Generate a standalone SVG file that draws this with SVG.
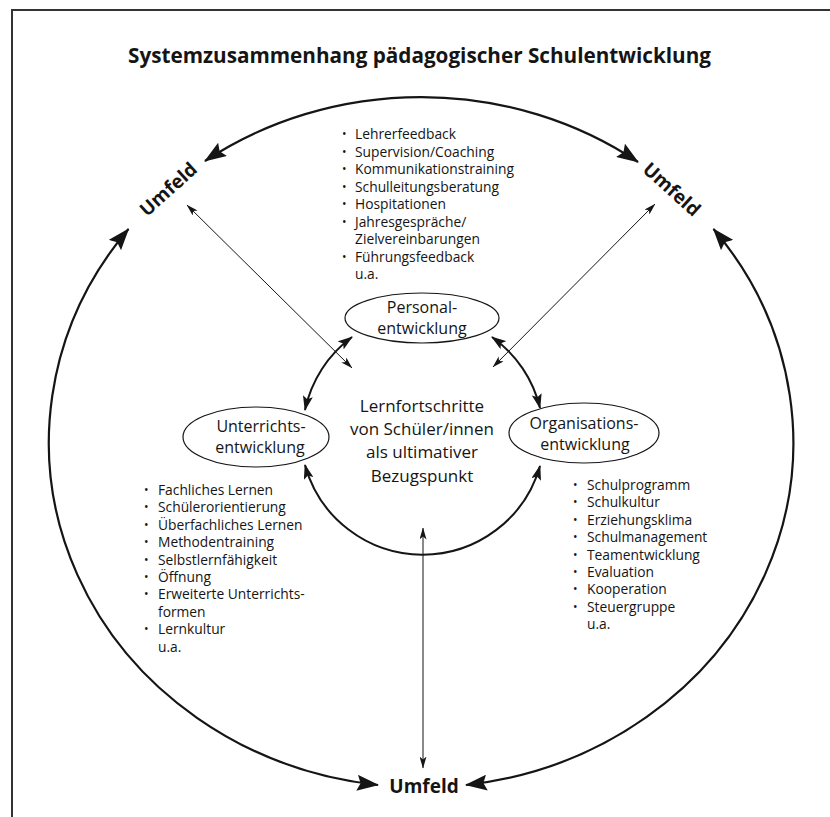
<svg xmlns="http://www.w3.org/2000/svg" width="830" height="817" viewBox="0 0 830 817">
<style>
text{font-family:"Open Sans","Noto Sans","DejaVu Sans",sans-serif;fill:#151515}
.title{font-size:20.5px;font-weight:700;text-anchor:middle}
.umf{font-size:19px;font-weight:700;text-anchor:middle}
.node{font-size:16px;text-anchor:middle}
.ctr{font-size:17px;text-anchor:middle}
.li{font-size:13.8px}
.bu{font-size:12px}
.big{fill:none;stroke:#151515;stroke-width:2.2;marker-start:url(#ab);marker-end:url(#ab)}
.mid{fill:none;stroke:#151515;stroke-width:2;marker-start:url(#am);marker-end:url(#am)}
.thin{fill:none;stroke:#151515;stroke-width:1;marker-start:url(#as);marker-end:url(#as)}
.ell{fill:#fff;stroke:#151515;stroke-width:1.2}
</style>
<defs>
<marker id="ab" viewBox="0 0 22 16" refX="21" refY="8" markerWidth="22" markerHeight="16" markerUnits="userSpaceOnUse" orient="auto-start-reverse"><path d="M0,0 L22,8 L0,16 L3.5,8 Z" fill="#151515"/></marker>
<marker id="am" viewBox="0 0 15 10" refX="14" refY="5" markerWidth="15" markerHeight="10" markerUnits="userSpaceOnUse" orient="auto-start-reverse"><path d="M0,0 L15,5 L0,10 L3,5 Z" fill="#151515"/></marker>
<marker id="as" viewBox="0 0 12 7" refX="11.5" refY="3.5" markerWidth="12" markerHeight="7" markerUnits="userSpaceOnUse" orient="auto-start-reverse"><path d="M0,0 L12,3.5 L0,7 L3,3.5 Z" fill="#151515"/></marker>
</defs>
<rect width="830" height="817" fill="#fff"/>
<path d="M12,817 V10 H830" fill="none" stroke="#333" stroke-width="2"/>
<text class="title" x="419.5" y="63" textLength="583" lengthAdjust="spacingAndGlyphs">Systemzusammenhang pädagogischer Schulentwicklung</text>

<g id="connectors">
<path class="big" d="M205,161 A372,345 0 0 1 638,162"/>
<path class="big" d="M128.5,229 A372,345 0 0 0 378,785"/>
<path class="big" d="M713.5,229 A372,345 0 0 1 466,785"/>
<path class="thin" d="M187,205 L352,368"/>
<path class="thin" d="M655,204 L493,367"/>
<path class="thin" d="M423,528 L423,768"/>
<path class="mid" d="M352,337 A122,122 0 0 0 305,410"/>
<path class="mid" d="M492,337 A122,122 0 0 1 540,408"/>
<path class="mid" d="M305,465 A122,122 0 0 0 540,466"/>
</g>

<g id="umfeld-left"><text class="umf" transform="translate(168,189) rotate(-42)" y="7">Umfeld</text></g>
<g id="umfeld-right"><text class="umf" transform="translate(672,189) rotate(42)" y="7">Umfeld</text></g>
<g id="umfeld-bottom"><text class="umf" x="424" y="793">Umfeld</text></g>

<g id="personalentwicklung">
<ellipse class="ell" cx="422" cy="318" rx="77" ry="25"/>
<text class="node" x="422" y="313">Personal-</text>
<text class="node" x="422" y="334">entwicklung</text>
</g>
<g id="unterrichtsentwicklung">
<ellipse class="ell" cx="256" cy="437" rx="73" ry="30"/>
<text class="node" x="261" y="432">Unterrichts-</text>
<text class="node" x="260" y="453">entwicklung</text>
</g>
<g id="organisationsentwicklung">
<ellipse class="ell" cx="584" cy="433" rx="75" ry="30"/>
<text class="node" x="584" y="429">Organisations-</text>
<text class="node" x="585" y="450">entwicklung</text>
</g>
<g id="zentrum">
<text class="ctr" x="422" y="412">Lernfortschritte</text>
<text class="ctr" x="422" y="435">von Schüler/innen</text>
<text class="ctr" x="422" y="458">als ultimativer</text>
<text class="ctr" x="422" y="482">Bezugspunkt</text>
</g>

<g id="liste-personal">
<text class="bu" x="342" y="138">•</text><text class="li" x="355" y="139">Lehrerfeedback</text>
<text class="bu" x="342" y="155.5">•</text><text class="li" x="355" y="156.5">Supervision/Coaching</text>
<text class="bu" x="342" y="173">•</text><text class="li" x="355" y="174">Kommunikationstraining</text>
<text class="bu" x="342" y="190.5">•</text><text class="li" x="355" y="191.5">Schulleitungsberatung</text>
<text class="bu" x="342" y="208">•</text><text class="li" x="355" y="209">Hospitationen</text>
<text class="bu" x="342" y="225.5">•</text><text class="li" x="355" y="226.5">Jahresgespräche/</text>
<text class="li" x="355" y="244">Zielvereinbarungen</text>
<text class="bu" x="342" y="260.5">•</text><text class="li" x="355" y="261.5">Führungsfeedback</text>
<text class="li" x="355" y="279">u.a.</text>
</g>
<g id="liste-unterricht">
<text class="bu" x="144" y="494">•</text><text class="li" x="158" y="495">Fachliches Lernen</text>
<text class="bu" x="144" y="511.4">•</text><text class="li" x="158" y="512.4">Schülerorientierung</text>
<text class="bu" x="144" y="528.8">•</text><text class="li" x="158" y="529.8">Überfachliches Lernen</text>
<text class="bu" x="144" y="546.2">•</text><text class="li" x="158" y="547.2">Methodentraining</text>
<text class="bu" x="144" y="563.6">•</text><text class="li" x="158" y="564.6">Selbstlernfähigkeit</text>
<text class="bu" x="144" y="581">•</text><text class="li" x="158" y="582">Öffnung</text>
<text class="bu" x="144" y="598.4">•</text><text class="li" x="158" y="599.4">Erweiterte Unterrichts-</text>
<text class="li" x="158" y="616.8">formen</text>
<text class="bu" x="144" y="633.2">•</text><text class="li" x="158" y="634.2">Lernkultur</text>
<text class="li" x="158" y="651.6">u.a.</text>
</g>
<g id="liste-organisation">
<text class="bu" x="573" y="489">•</text><text class="li" x="587" y="490">Schulprogramm</text>
<text class="bu" x="573" y="506.4">•</text><text class="li" x="587" y="507.4">Schulkultur</text>
<text class="bu" x="573" y="523.8">•</text><text class="li" x="587" y="524.8">Erziehungsklima</text>
<text class="bu" x="573" y="541.2">•</text><text class="li" x="587" y="542.2">Schulmanagement</text>
<text class="bu" x="573" y="558.6">•</text><text class="li" x="587" y="559.6">Teamentwicklung</text>
<text class="bu" x="573" y="576">•</text><text class="li" x="587" y="577">Evaluation</text>
<text class="bu" x="573" y="593.4">•</text><text class="li" x="587" y="594.4">Kooperation</text>
<text class="bu" x="573" y="610.8">•</text><text class="li" x="587" y="611.8">Steuergruppe</text>
<text class="li" x="587" y="629.2">u.a.</text>
</g>
</svg>
